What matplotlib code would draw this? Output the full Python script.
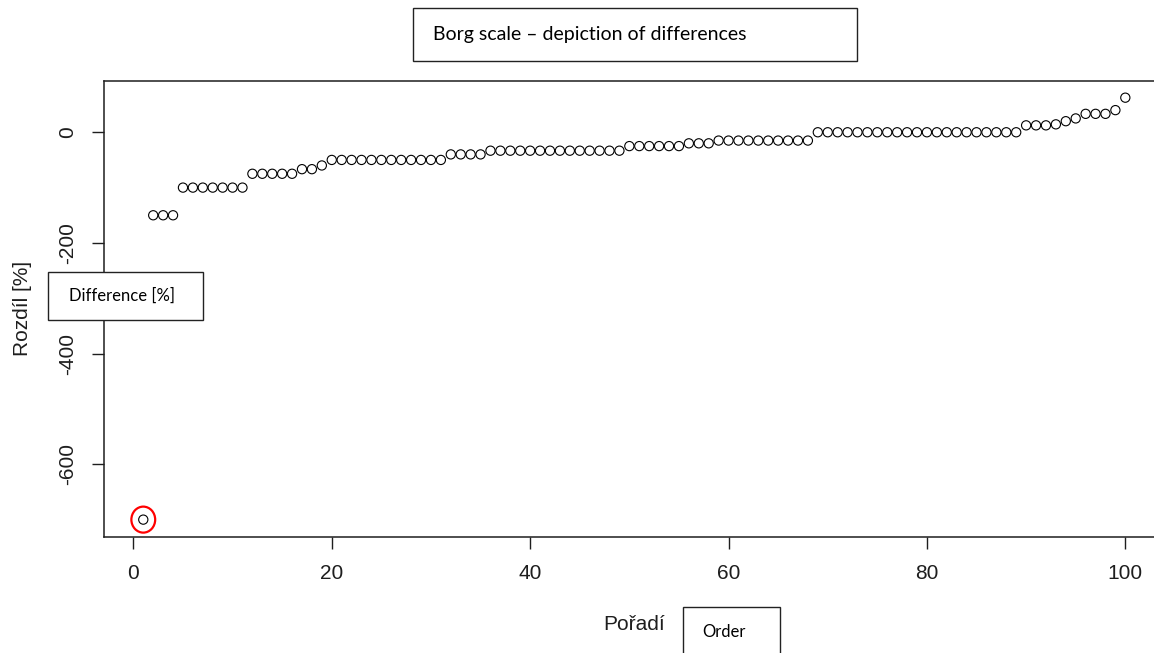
import matplotlib
matplotlib.use("Agg")
import matplotlib.pyplot as plt
from matplotlib.patches import Rectangle, Ellipse
import numpy as np

W, H = 1154, 653

# differences sorted ascending
diff = [
    -700, -150, -150, -150, -100, -100, -100, -100, -100, -100,
    -100, -75, -75, -75, -75, -75, -66.7, -66.7, -60, -50,
    -50, -50, -50, -50, -50, -50, -50, -50, -50, -50,
    -50, -40, -40, -40, -40, -33.3, -33.3, -33.3, -33.3, -33.3,
    -33.3, -33.3, -33.3, -33.3, -33.3, -33.3, -33.3, -33.3, -33.3, -25,
    -25, -25, -25, -25, -25, -20, -20, -20, -15, -15,
    -15, -15, -15, -15, -15, -15, -15, -15, 0, 0,
    0, 0, 0, 0, 0, 0, 0, 0, 0, 0,
    0, 0, 0, 0, 0, 0, 0, 0, 0, 12.5,
    12.5, 12.5, 14.3, 20, 25, 33.3, 33.3, 33.3, 40, 62.5,
]
order = np.arange(1, len(diff) + 1)
x_ticks = [0, 20, 40, 60, 80, 100]
y_ticks = [-600, -400, -200, 0]

title_txt = "Borg scale \u2013 depiction of differences"
ylab_en = "Difference [%]"
xlab_en = "Order"

plt.rcParams["font.family"] = ["Liberation Sans", "DejaVu Sans"]
ink = "#1e1e1e"

fig = plt.figure(figsize=(W / 100, H / 100), dpi=100)
# plot region (right edge runs past the picture, as in the reference)
left, right, top, bottom = 104, 1164.6, 80.8, 536.5
ax = fig.add_axes([left / W, 1 - bottom / H, (right - left) / W, (bottom - top) / H])

ax.scatter(order, diff, s=44, facecolors="none", edgecolors="black", linewidths=0.8, zorder=3)

def r_lim(vals):
    lo, hi = min(vals), max(vals)
    pad = 0.04 * (hi - lo)
    return lo - pad, hi + pad

ax.set_xlim(r_lim(order))
ax.set_ylim(r_lim(diff))
ax.set_xticks(x_ticks)
ax.set_yticks(y_ticks)
ax.set_yticklabels([str(v) for v in y_ticks], rotation=90, va="center")
ax.tick_params(direction="out", length=8.6, width=1, colors=ink, labelsize=15)
ax.tick_params(axis="x", pad=11)
ax.tick_params(axis="y", pad=10.5)
for s in ax.spines.values():
    s.set_color(ink)
    s.set_linewidth(1.1)

ax.set_xlabel("Po\u0159ad\u00ed", fontsize=15, color=ink, va="center")
ax.xaxis.set_label_coords(0.5, -0.194)
ax.set_ylabel("Rozd\u00edl [%]", fontsize=15, color=ink, va="center")
ax.yaxis.set_label_coords(-0.0773, 0.5)

# red circle highlighting the outlier
ax.add_patch(Ellipse((order[0], diff[0]), 2.4, 47, fill=False, edgecolor="red", linewidth=1.6, zorder=4))

# pasted English boxes
def box(x0, y0, x1, y1, text, tx, ty, size):
    fig.add_artist(Rectangle((x0 / W, 1 - y1 / H), (x1 - x0) / W, (y1 - y0) / H,
                             transform=fig.transFigure, facecolor="white",
                             edgecolor="#222222", linewidth=1.0, zorder=10))
    fig.text(tx / W, 1 - ty / H, text, fontsize=size, family=["Lato", "DejaVu Sans"],
             color="black", va="baseline", ha="left", zorder=11)

box(412.7, 8.3, 856.7, 61, title_txt, 433, 40, 14)
box(48.3, 272.3, 203.3, 320, ylab_en, 69.3, 300.7, 12)
box(682.7, 607.3, 780, 670, xlab_en, 702.7, 636.7, 12)

fig.savefig("out.png", dpi=100)
